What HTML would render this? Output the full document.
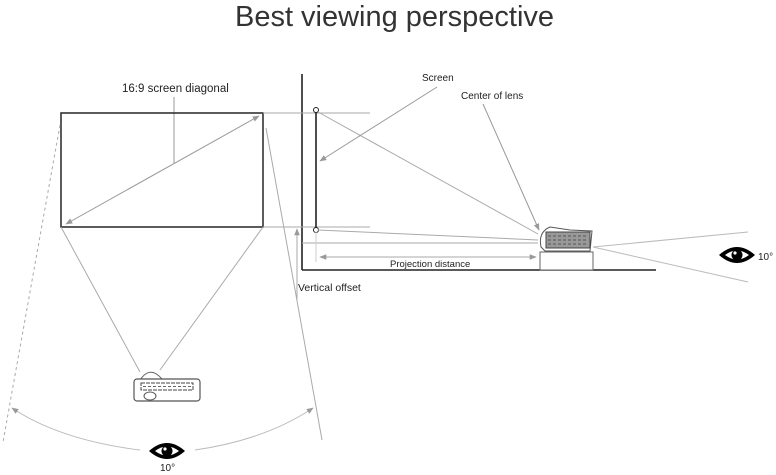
<!DOCTYPE html>
<html><head><meta charset="utf-8"><style>
html,body{margin:0;padding:0;background:#fff;}
svg{display:block;}
text{font-family:"Liberation Sans",sans-serif;}
</style></head><body>
<svg width="776" height="475" viewBox="0 0 776 475" xmlns="http://www.w3.org/2000/svg">
<defs>
<marker id="a" viewBox="0 0 10 10" refX="9" refY="5" markerWidth="7" markerHeight="7" orient="auto-start-reverse"><path d="M0,1 L10,5 L0,9z" fill="#999"/></marker>
<g id="eye">
<path d="M-18,0 Q0,-16 18,0 Q0,16 -18,0z" fill="#000"/>
<path d="M-12,0 Q0,-9 12,0 Q0,9 -12,0z" fill="#fff"/>
<circle cx="0" cy="0" r="5.5" fill="#000"/>
<circle cx="-2" cy="-2" r="1.6" fill="#fff"/>
</g>
</defs>
<text x="235" y="26" font-size="29" fill="#333" textLength="319" lengthAdjust="spacingAndGlyphs">Best viewing perspective</text>

<!-- left diagram -->
<text x="122" y="92" font-size="11.5" fill="#222">16:9 screen diagonal</text>
<line x1="174" y1="97" x2="174" y2="163" stroke="#999" stroke-width="1"/>
<rect x="61" y="113" width="202" height="114" fill="none" stroke="#333" stroke-width="1.6"/>
<line x1="66" y1="224" x2="259" y2="116" stroke="#999" stroke-width="1" marker-start="url(#a)" marker-end="url(#a)"/>
<line x1="61" y1="227" x2="140" y2="372" stroke="#aaa" stroke-width="1"/>
<line x1="263" y1="227" x2="160" y2="370" stroke="#aaa" stroke-width="1"/>
<line x1="60" y1="125" x2="3" y2="442" stroke="#aaa" stroke-width="1" stroke-dasharray="3,3"/>
<line x1="266" y1="128" x2="322" y2="440" stroke="#aaa" stroke-width="1"/>
<path d="M12,408 Q60,440 140,450" fill="none" stroke="#bbb" stroke-width="1" marker-start="url(#a)"/>
<path d="M313,408 Q265,440 195,450" fill="none" stroke="#bbb" stroke-width="1" marker-start="url(#a)"/>
<!-- projector left -->
<path d="M140,380 Q150,365 162,379" fill="none" stroke="#666" stroke-width="1"/>
<rect x="134" y="379" width="66" height="22" rx="3" fill="#fff" stroke="#555" stroke-width="1.2"/>
<rect x="141" y="383" width="52" height="7" fill="none" stroke="#444" stroke-width="1" stroke-dasharray="4,1"/>
<line x1="143" y1="386.5" x2="191" y2="386.5" stroke="#666" stroke-dasharray="3,2"/>
<ellipse cx="150" cy="396" rx="6" ry="4" fill="none" stroke="#555"/>
<use href="#eye" x="167" y="451"/>
<text x="160" y="471" font-size="10" fill="#222">10°</text>

<!-- right diagram -->
<line x1="302" y1="74" x2="302" y2="270" stroke="#222" stroke-width="1.6"/>
<line x1="302" y1="270" x2="656" y2="270" stroke="#222" stroke-width="1.6"/>
<line x1="263" y1="113" x2="370" y2="113" stroke="#aaa" stroke-width="1"/>
<line x1="263" y1="227" x2="370" y2="227" stroke="#aaa" stroke-width="1"/>
<line x1="316" y1="110" x2="316" y2="230" stroke="#222" stroke-width="1.6"/>
<circle cx="316" cy="110" r="2.5" fill="#fff" stroke="#222" stroke-width="1"/>
<circle cx="316" cy="230" r="2.5" fill="#fff" stroke="#222" stroke-width="1"/>
<line x1="318" y1="112" x2="538" y2="234" stroke="#aaa" stroke-width="1"/>
<line x1="318" y1="230" x2="538" y2="240" stroke="#aaa" stroke-width="1"/>
<line x1="302" y1="243" x2="538" y2="243" stroke="#aaa" stroke-width="1"/>
<line x1="297" y1="229" x2="297" y2="300" stroke="#aaa" stroke-width="1" marker-start="url(#a)"/>
<line x1="316" y1="232" x2="316" y2="262" stroke="#ccc" stroke-width="1"/>
<line x1="320" y1="257" x2="536" y2="257" stroke="#aaa" stroke-width="1" marker-start="url(#a)" marker-end="url(#a)"/>
<text x="390" y="267" font-size="9.5" fill="#222">Projection distance</text>
<text x="298" y="291" font-size="10.5" fill="#222">Vertical offset</text>
<text x="422" y="81" font-size="10" fill="#222">Screen</text>
<line x1="437" y1="87" x2="320" y2="161" stroke="#999" stroke-width="1" marker-end="url(#a)"/>
<text x="461" y="99" font-size="10" fill="#222">Center of lens</text>
<line x1="483" y1="104" x2="539" y2="230" stroke="#999" stroke-width="1" marker-end="url(#a)"/>
<!-- projector right -->
<rect x="540" y="252" width="53" height="18" fill="#fff" stroke="#666" stroke-width="1"/>
<path d="M541,247 Q538,232 550,227 L570,230 L592,231 L590,251 L545,251z" fill="#fff" stroke="#555" stroke-width="1"/>
<rect x="546" y="232" width="44" height="16" fill="#999" stroke="#444"/>
<path d="M548,236 H588 M548,240 H588 M548,244 H588" stroke="#555" stroke-dasharray="3,2"/>
<line x1="593" y1="247" x2="748" y2="232" stroke="#bbb" stroke-width="1"/>
<line x1="593" y1="247" x2="748" y2="282" stroke="#bbb" stroke-width="1"/>
<use href="#eye" x="737" y="255"/>
<text x="758" y="260" font-size="10" fill="#222">10°</text>
</svg>
</body></html>
